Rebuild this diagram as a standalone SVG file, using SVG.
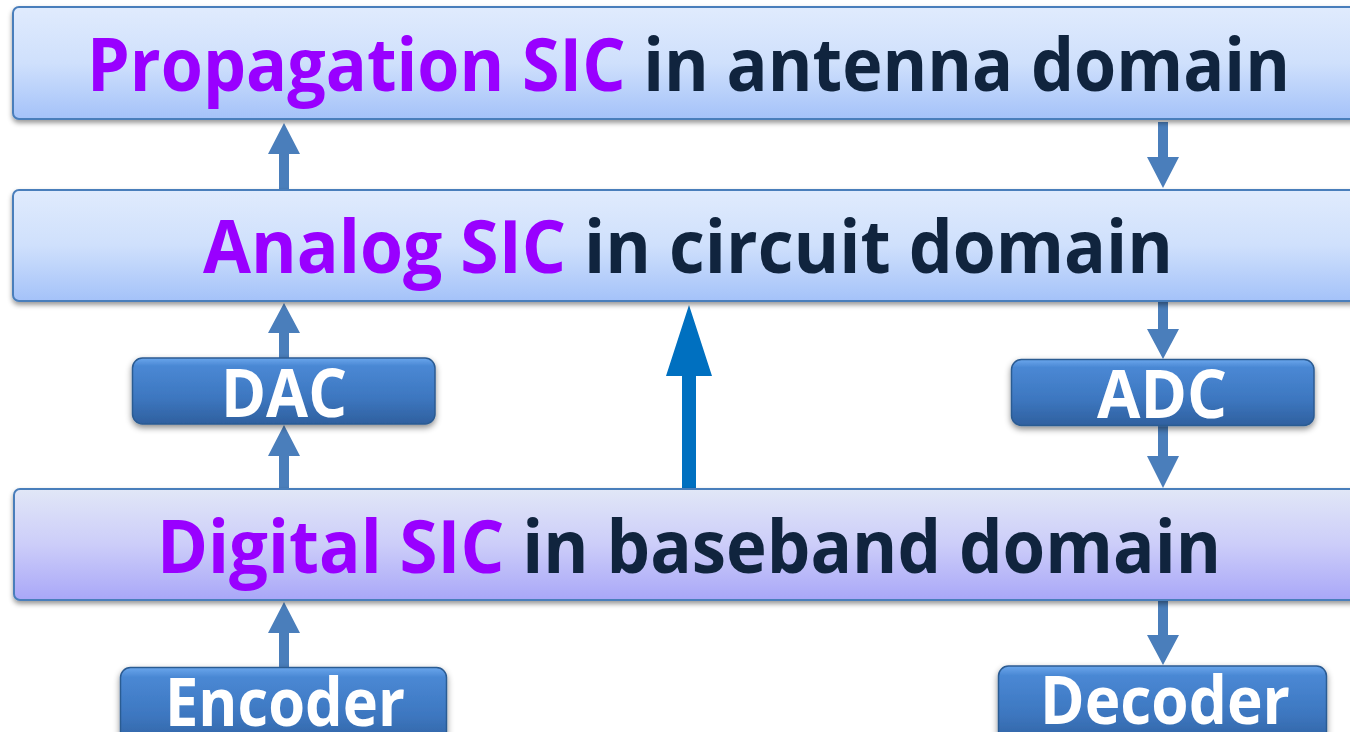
<svg xmlns="http://www.w3.org/2000/svg" width="1350" height="732" viewBox="0 0 1350 732">
<defs>
<linearGradient id="gBlue" x1="0" y1="0" x2="0" y2="1">
<stop offset="0" stop-color="#e0ebfd"/><stop offset="0.5" stop-color="#cfe0fc"/><stop offset="1" stop-color="#a4c2f9"/>
</linearGradient>
<linearGradient id="gLav" x1="0" y1="0" x2="0" y2="1">
<stop offset="0" stop-color="#e1e7f7"/><stop offset="0.5" stop-color="#cccdf9"/><stop offset="1" stop-color="#a9a7f8"/>
</linearGradient>
<linearGradient id="gBtn" x1="0" y1="0" x2="0" y2="1">
<stop offset="0" stop-color="#6aa6ec"/><stop offset="0.12" stop-color="#4a88d4"/><stop offset="0.6" stop-color="#3d77c0"/><stop offset="1" stop-color="#2f609f"/>
</linearGradient>
<filter id="sh" x="-5%" y="-20%" width="110%" height="150%">
<feDropShadow dx="0" dy="3" stdDeviation="2.5" flood-color="#000" flood-opacity="0.4"/>
</filter>
<filter id="sh2" x="-10%" y="-20%" width="120%" height="160%">
<feDropShadow dx="0" dy="3" stdDeviation="3" flood-color="#000" flood-opacity="0.45"/>
</filter>
</defs>
<style>
.band{stroke:#4a7ebb;stroke-width:2}
.big{font-family:"Open Sans","Noto Sans","Liberation Sans",sans-serif;font-weight:bold;font-size:73px}
.pur{fill:#9900ff}
.dk{fill:#10243e}
.btn{fill:url(#gBtn);stroke:#2c5b92;stroke-width:1.5}
.btxt{font-family:"Open Sans","Noto Sans","Liberation Sans",sans-serif;font-weight:bold;font-size:66px;fill:#ffffff;text-anchor:middle}
.arr{fill:#4a7ebb}
</style>
<rect width="1350" height="732" fill="#ffffff"/>
<g id="connectors">
<polygon class="arr" points="279,190 279,154 268,154 284,123 300,154 289,154 289,190"/>
<polygon class="arr" points="1158,122 1168,122 1168,157 1179,157 1163,188 1147,157 1158,157"/>
<polygon class="arr" points="279,358 279,333 268,333 284,303 300,333 289,333 289,358"/>
<polygon class="arr" points="279,489 279,456 268,456 284,425 300,456 289,456 289,489"/>
<polygon class="arr" points="279,667 279,633 268,633 284,602 300,633 289,633 289,667"/>
<polygon class="arr" points="1158,302 1168,302 1168,329 1179,329 1163,359 1147,329 1158,329"/>
<polygon class="arr" points="1158,425 1168,425 1168,456 1179,456 1163,488 1147,456 1158,456"/>
<polygon class="arr" points="1158,601 1168,601 1168,635 1179,635 1163,665 1147,635 1158,635"/>
<polygon fill="#0070c0" points="682,489 682,376 666,376 689,305 712,376 696,376 696,489"/>
</g>
<g id="propagation">
<rect class="band" x="13" y="7" width="1345" height="112" rx="6" fill="url(#gBlue)" filter="url(#sh)"/>
<text class="big" x="87" y="91" textLength="1203" lengthAdjust="spacingAndGlyphs"><tspan class="pur">Propagation SIC</tspan><tspan class="dk"> in antenna domain</tspan></text>
</g>
<g id="analog">
<rect class="band" x="13" y="190" width="1345" height="111" rx="6" fill="url(#gBlue)" filter="url(#sh)"/>
<text class="big" x="203" y="273" textLength="970" lengthAdjust="spacingAndGlyphs"><tspan class="pur">Analog SIC</tspan><tspan class="dk"> in circuit domain</tspan></text>
</g>
<g id="digital">
<rect class="band" x="14" y="489" width="1345" height="111" rx="6" fill="url(#gLav)" filter="url(#sh)"/>
<text class="big" x="157" y="573" textLength="1064" lengthAdjust="spacingAndGlyphs"><tspan class="pur">Digital SIC</tspan><tspan class="dk"> in baseband domain</tspan></text>
</g>
<g id="dac">
<rect class="btn" x="132.5" y="358" width="302.5" height="66" rx="10" filter="url(#sh2)"/>
<text class="btxt" x="284" y="417" textLength="126" lengthAdjust="spacingAndGlyphs">DAC</text>
</g>
<g id="adc">
<rect class="btn" x="1011.5" y="359.5" width="302.5" height="66" rx="10" filter="url(#sh2)"/>
<text class="btxt" x="1162" y="418" textLength="130" lengthAdjust="spacingAndGlyphs">ADC</text>
</g>
<g id="encoder">
<rect class="btn" x="120.5" y="667.5" width="326" height="80" rx="10" filter="url(#sh2)"/>
<text class="btxt" x="285" y="726" textLength="240" lengthAdjust="spacingAndGlyphs">Encoder</text>
</g>
<g id="decoder">
<rect class="btn" x="998.5" y="666" width="328" height="80" rx="10" filter="url(#sh2)"/>
<text class="btxt" x="1165" y="724" textLength="250" lengthAdjust="spacingAndGlyphs">Decoder</text>
</g>
</svg>
